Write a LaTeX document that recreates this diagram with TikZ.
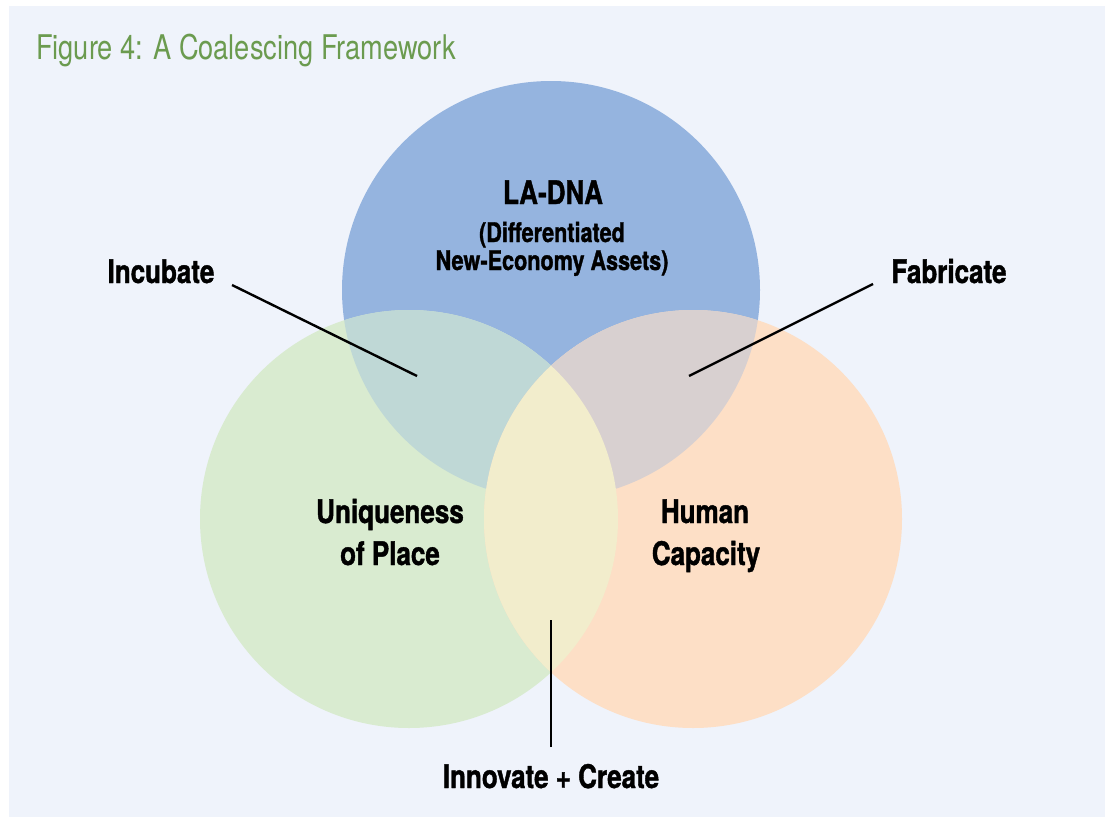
\documentclass[tikz,border=0pt]{standalone}
\usepackage{fontspec}
\newfontfamily\condfont{TeX Gyre Heros}[FakeStretch=0.8,BoldFeatures={FakeBold=1.2}]
\usepackage{tikz}
\usetikzlibrary{positioning}

\definecolor{panelbg}{HTML}{EFF3FB}
\definecolor{titlegreen}{HTML}{6B9B4F}
\definecolor{dnablue}{HTML}{95B4DF}
\definecolor{placegreen}{HTML}{D9EBD0}
\definecolor{humanorange}{HTML}{FDDFC6}
\definecolor{incteal}{HTML}{BFD8D6}
\definecolor{fabmauve}{HTML}{D8D0D0}
\definecolor{innoyellow}{HTML}{F2EDCC}

\begin{document}
\begin{tikzpicture}[x=1pt,y=-1pt,
  big label/.style={font=\condfont\bfseries\fontsize{32.5}{38}\selectfont,anchor=base,inner sep=0pt},
  small label/.style={font=\condfont\bfseries\fontsize{27}{32}\selectfont,anchor=base,inner sep=0pt},
  pointer/.style={line width=2.4pt,black}]

  \useasboundingbox (0,0) rectangle (1105,817);
  \fill[white] (0,0) rectangle (1105,817);
  \fill[panelbg] (9,6) rectangle (1105,817);

  \node[anchor=base west,inner sep=0pt,text=titlegreen,
    font=\condfont\fontsize{34}{40}\selectfont] (title) at (36,59) {Figure 4: A Coalescing Framework};

  % the three sets
  \fill[dnablue] (551,290) circle (209pt);
  \fill[placegreen] (409,519) circle (209pt);
  \fill[humanorange] (693,519) circle (209pt);
  \begin{scope}
    \clip (551,290) circle (209pt);
    \fill[incteal] (409,519) circle (209pt);
    \fill[fabmauve] (693,519) circle (209pt);
  \end{scope}
  \begin{scope}
    \clip (409,519) circle (209pt);
    \fill[innoyellow] (693,519) circle (209pt);
  \end{scope}

  % set names
  \node[big label] (dna) at (553,204) {LA-DNA};
  \node[small label] (dna2) at (552,242) {(Differentiated};
  \node[small label] (dna3) at (552,270) {New-Economy Assets)};
  \node[big label] (place) at (390,523) {Uniqueness};
  \node[big label] (place2) at (390,565) {of Place};
  \node[big label] (human) at (705,523) {Human};
  \node[big label] (human2) at (706,565) {Capacity};

  % overlap names
  \node[big label] (incubate) at (161,283) {Incubate};
  \node[big label] (fabricate) at (949,283) {Fabricate};
  \node[big label] (innovate) at (551,788) {Innovate + Create};

  \coordinate (incFrom) at (232,285);
  \coordinate (incTip) at (417,376);
  \coordinate (fabFrom) at (873,284);
  \coordinate (fabTip) at (689,376);
  \coordinate (innoFrom) at (551,747);
  \coordinate (innoTip) at (551,620);

  \draw[pointer] (incFrom) -- (incTip);
  \draw[pointer] (fabFrom) -- (fabTip);
  \draw[pointer] (innoFrom) -- (innoTip);
\end{tikzpicture}
\end{document}
